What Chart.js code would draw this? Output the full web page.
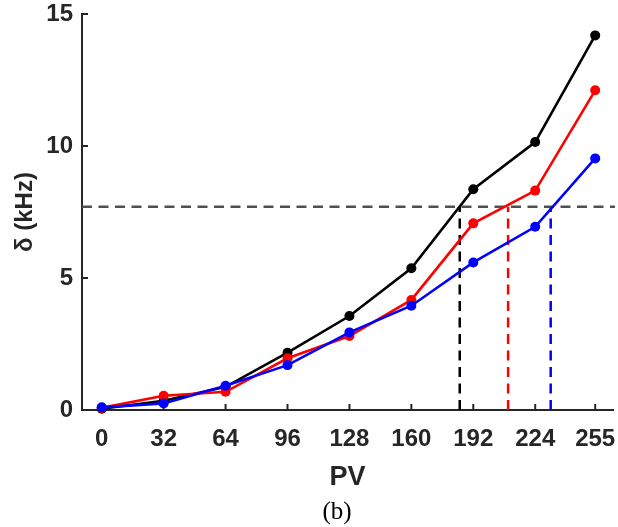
<!DOCTYPE html>
<html>
<head>
<meta charset="utf-8">
<script src="https://cdn.jsdelivr.net/npm/chart.js@4.4.1/dist/chart.umd.min.js"></script>
<style>
  html, body { margin: 0; padding: 0; background: #ffffff; }
  #wrap { width: 618px; height: 527px; position: relative; }
</style>
</head>
<body>
<div id="wrap"><canvas id="c" width="618" height="527"></canvas></div>
<script>
// ---- data ----
const pv = [0, 32, 64, 96, 128, 160, 192, 224, 255];
const deltaBlack = [0.05, 0.35, 0.88, 2.17, 3.56, 5.37, 8.36, 10.15, 14.19];
const deltaRed   = [0.08, 0.54, 0.69, 1.96, 2.80, 4.17, 7.07, 8.31, 12.11];
const deltaBlue  = [0.10, 0.25, 0.92, 1.70, 2.94, 3.95, 5.59, 6.94, 9.53];
const threshold = 7.7;              // horizontal dashed line (kHz)
const crossPV = [185, 210, 232];    // vertical dashed markers (black, red, blue)
const xTickLabels = [0, 32, 64, 96, 128, 160, 192, 224, 255];
const yTickLabels = [0, 5, 10, 15];

const AXIS = '#262626';
const xMin = -10.2, xMax = 264.2;

const pts = (xs, ys) => xs.map((x, i) => ({ x: x, y: ys[i] }));

const solid = (label, color, ys, order) => ({
  label, data: pts(pv, ys), borderColor: color, backgroundColor: color,
  borderWidth: 2.6, pointRadius: 5, pointHoverRadius: 5, pointBorderWidth: 0,
  showLine: true, clip: false, order
});
const dashed = (label, color, data, order) => ({
  label, data, borderColor: color, backgroundColor: color,
  borderWidth: 2.5, borderDash: [10, 6.5], pointRadius: 0,
  showLine: true, clip: false, order
});

const datasets = [
  solid('blue', '#0000ff', deltaBlue, 1),
  solid('red', '#ff0000', deltaRed, 2),
  solid('black', '#000000', deltaBlack, 3),
  dashed('thr', '#505050', [{ x: xMin, y: threshold }, { x: xMax + 1, y: threshold }], 4),
  dashed('vb', '#000000', [{ x: crossPV[0], y: 0 }, { x: crossPV[0], y: threshold }], 5),
  dashed('vr', '#ff0000', [{ x: crossPV[1], y: 0 }, { x: crossPV[1], y: threshold }], 5),
  dashed('vbl', '#0000ff', [{ x: crossPV[2], y: 0 }, { x: crossPV[2], y: threshold }], 5)
];

const inwardTicks = {
  id: 'inwardTicks',
  afterLayout(chart) {
    // shift the caption "(b)" so it sits centred under the plot like the reference
    if (chart.titleBlock) { chart.titleBlock.left += 56; }
  },
  beforeDatasetsDraw(chart) {
    const ctx = chart.ctx, a = chart.chartArea;
    const xs = chart.scales.x, ys = chart.scales.y;
    ctx.save();
    ctx.strokeStyle = AXIS; ctx.lineWidth = 2;
    xs.ticks.forEach(t => {
      const px = xs.getPixelForValue(t.value);
      ctx.beginPath(); ctx.moveTo(px, a.bottom); ctx.lineTo(px, a.bottom - 6); ctx.stroke();
    });
    ys.ticks.forEach(t => {
      const py = ys.getPixelForValue(t.value);
      ctx.beginPath(); ctx.moveTo(a.left, py); ctx.lineTo(a.left + 6, py); ctx.stroke();
    });
    ctx.restore();
  }
};

new Chart(document.getElementById('c'), {
  type: 'scatter',
  data: { datasets },
  plugins: [inwardTicks],
  options: {
    responsive: false,
    animation: false,
    events: [],
    layout: { padding: { left: 0, right: 0, top: 14, bottom: 0 } },
    plugins: {
      legend: { display: false },
      tooltip: { enabled: false },
      title: {
        display: true, position: 'bottom', text: '(b)', color: '#000000',
        font: { family: '"Liberation Serif", serif', size: 25, weight: 'normal' },
        padding: { top: 0, bottom: 0 }
      }
    },
    scales: {
      x: {
        type: 'linear', min: xMin, max: xMax,
        afterBuildTicks: s => { s.ticks = xTickLabels.map(v => ({ value: v })); },
        afterFit: s => { s.height = 87; s.paddingLeft = 0; s.paddingRight = 0; },
        grid: { display: false, drawTicks: false },
        border: { display: true, color: AXIS, width: 2 },
        ticks: {
          color: AXIS, padding: 15, maxRotation: 0, autoSkip: false,
          font: { family: '"Liberation Sans", Arial, sans-serif', size: 24, weight: 'bold' }
        },
        title: {
          display: true, text: 'PV', color: AXIS,
          font: { family: '"Liberation Sans", Arial, sans-serif', size: 27, weight: 'bold' },
          padding: { top: 0, bottom: 3.5 }
        }
      },
      y: {
        type: 'linear', min: 0, max: 15,
        afterBuildTicks: s => { s.ticks = yTickLabels.map(v => ({ value: v })); },
        afterFit: s => { s.width = 82; s.paddingTop = 0; s.paddingBottom = 0; },
        grid: { display: false, drawTicks: false },
        border: { display: true, color: AXIS, width: 2 },
        ticks: {
          color: AXIS, padding: 9,
          font: { family: '"Liberation Sans", Arial, sans-serif', size: 24, weight: 'bold' }
        },
        title: {
          display: true, text: 'δ (kHz)', color: AXIS,
          font: { family: '"Liberation Sans", Arial, sans-serif', size: 24, weight: 'bold' },
          padding: { top: 11, bottom: 0 }
        }
      }
    }
  }
});
</script>
</body>
</html>
